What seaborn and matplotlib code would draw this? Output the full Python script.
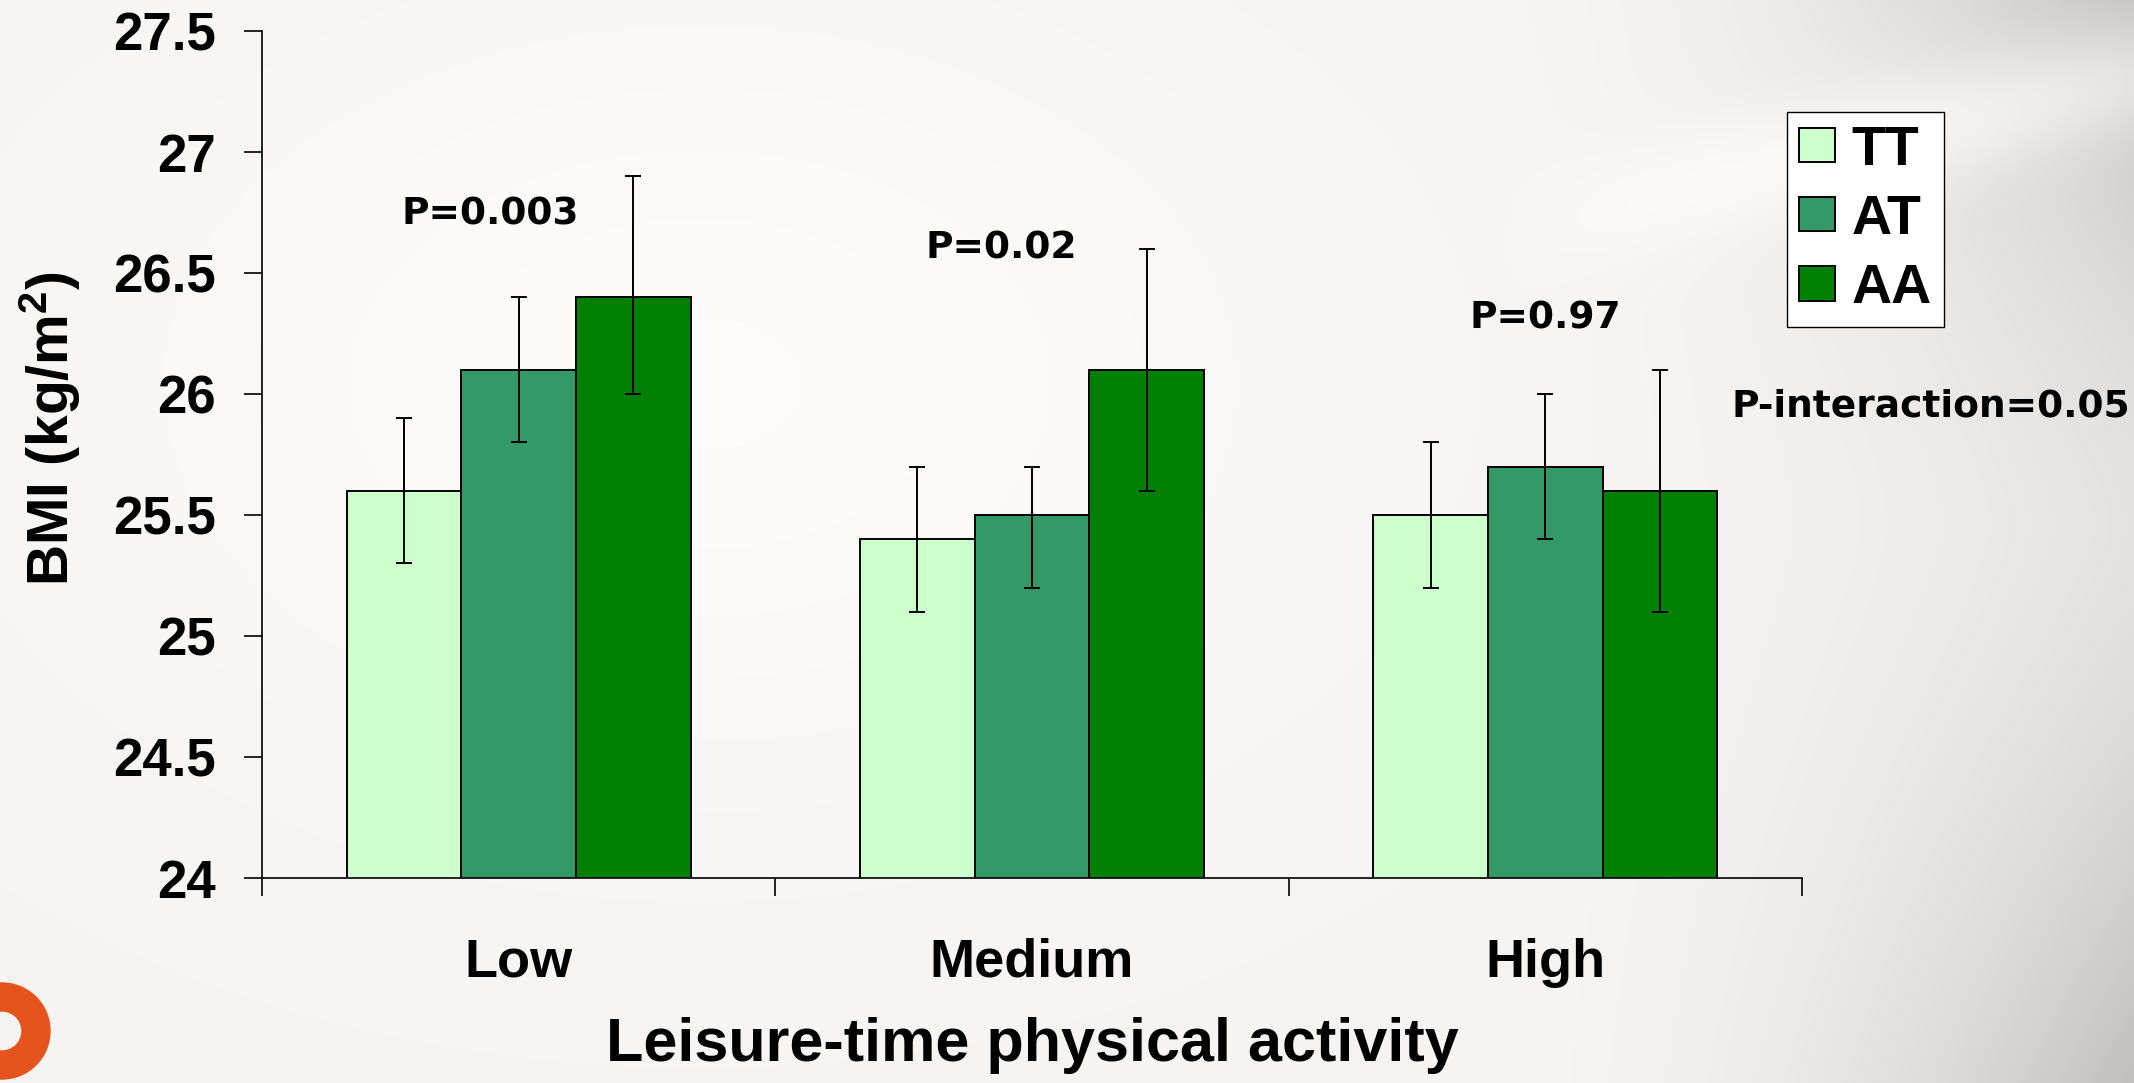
import numpy as np
import pandas as pd
import matplotlib
matplotlib.use("Agg")
import matplotlib.pyplot as plt
import seaborn as sns
from matplotlib.patches import Wedge

# --------------------------------------------------------------------
# 数据
# --------------------------------------------------------------------
activity = ["Low", "Medium", "High"]
genotypes = ["TT", "AT", "AA"]

bmi_tt = [25.6, 25.4, 25.5]
bmi_at = [26.1, 25.5, 25.7]
bmi_aa = [26.4, 26.1, 25.6]

# error bar ends (lower / upper)
low_tt = [25.3, 25.1, 25.2]
high_tt = [25.9, 25.7, 25.8]
low_at = [25.8, 25.2, 25.4]
high_at = [26.4, 25.7, 26.0]
low_aa = [26.0, 25.6, 25.1]
high_aa = [26.9, 26.6, 26.1]

p_labels = ["P=0.003", "P=0.02", "P=0.97"]
p_x = [-0.055, 0.94, 2.0]
p_y = [26.74, 26.60, 26.31]
p_interaction = "P-interaction=0.05"

yticks = [24, 24.5, 25, 25.5, 26, 26.5, 27, 27.5]
ytick_labels = ["24", "24.5", "25", "25.5", "26", "26.5", "27", "27.5"]

colors = ["#ccffcc", "#339966", "#008000"]

# --------------------------------------------------------------------
# 整理成长表
# --------------------------------------------------------------------
df = pd.DataFrame({
    "activity": activity * 3,
    "genotype": sum([[g] * 3 for g in genotypes], []),
    "bmi": bmi_tt + bmi_at + bmi_aa,
})
lows = [low_tt, low_at, low_aa]
highs = [high_tt, high_at, high_aa]

sns.set_theme(style="white")
plt.rcParams["font.family"] = ["Liberation Sans", "DejaVu Sans"]
plt.rcParams["font.weight"] = "bold"
plt.rcParams["text.color"] = "black"
plt.rcParams["axes.labelcolor"] = "black"
plt.rcParams["xtick.color"] = "black"
plt.rcParams["ytick.color"] = "black"
plt.rcParams["mathtext.fontset"] = "custom"
plt.rcParams["mathtext.rm"] = "Liberation Sans:bold"
plt.rcParams["mathtext.it"] = "Liberation Sans:bold"
plt.rcParams["mathtext.bf"] = "Liberation Sans:bold"

W, H = 2134, 1083
fig = plt.figure(figsize=(W / 100, H / 100), dpi=100)
fig.patch.set_facecolor("#f4f2ef")

# 背景渐变 (slide background), 坐标为像素
bg = fig.add_axes([0, 0, 1, 1], zorder=-5)
gx = np.linspace(0, W, 534)
gy = np.linspace(0, H, 271)
X, Y = np.meshgrid(gx, gy)
rx = np.clip((X - 1500) / 634, 0, 1)
ry = np.abs(Y - 560) / 540
shade = 0.965 - 0.20 * rx ** 2 * (0.35 + 0.65 * ry ** 1.5)
band = np.exp(-((Y - 900 - 0.25 * (X - 1700)) / 60) ** 2) * rx * 0.10
glow = 0.03 * np.exp(-(((X - 700) / 600) ** 2 + ((Y - 700) / 400) ** 2))
img = np.clip(shade + band + glow, 0, 1)
rgb = np.dstack([img, img * 0.994, img * 0.988])
bg.imshow(rgb, aspect="auto", extent=[0, W, 0, H], origin="lower")
bg.set_xlim(0, W)
bg.set_ylim(0, H)
bg.set_axis_off()
bg.add_patch(Wedge((2, 52), 48, 0, 360, width=28, color="#e5541c"))

ax = fig.add_axes([262 / W, 1 - 878 / H, 1540 / W, 847 / H])
ax.patch.set_alpha(0)

sns.barplot(data=df, x="activity", y="bmi", hue="genotype",
            order=activity, hue_order=genotypes, palette=colors,
            width=0.67, edgecolor="black", linewidth=1.4, errorbar=None,
            saturation=1, ax=ax)

# 误差线
bar_conts = list(ax.containers)
for i, cont in enumerate(bar_conts):
    xs = [b.get_x() + b.get_width() / 2 for b in cont]
    ys = np.array([b.get_height() for b in cont])
    yerr = [ys - np.array(lows[i]), np.array(highs[i]) - ys]
    ax.errorbar(xs, ys, yerr=yerr, fmt="none", ecolor="black",
                elinewidth=1.4, capsize=6, capthick=1.4, zorder=5)

ax.set_ylim(24, 27.5)
ax.set_xlim(-0.5, 2.5)
ax.set_yticks(yticks)
ax.set_yticklabels(ytick_labels, fontsize=38, fontweight="bold")

# x 轴: 分隔刻度 + 类别标签
ax.set_xticks([-0.5, 0.5, 1.5, 2.5])
ax.set_xticklabels([])
ax.set_xticks([0, 1, 2], minor=True)
ax.set_xticklabels(activity, minor=True, fontsize=39, fontweight="bold")
ax.tick_params(axis="x", which="major", direction="out", length=13,
               width=1.2, color="black", bottom=True)
ax.tick_params(axis="x", which="minor", length=0, pad=43)
ax.tick_params(axis="y", direction="out", length=13, width=1.2,
               color="black", left=True, pad=20)

for s in ["top", "right"]:
    ax.spines[s].set_visible(False)
for s in ["left", "bottom"]:
    ax.spines[s].set_color("black")
    ax.spines[s].set_linewidth(1.2)

ax.set_xlabel("Leisure-time physical activity", fontsize=44,
              fontweight="bold", labelpad=21)
ax.set_ylabel("BMI (kg/m$^2$)", fontsize=41, fontweight="bold")
ax.yaxis.set_label_coords(-0.116, 0.53)

# P 值
for xi, yi, t in zip(p_x, p_y, p_labels):
    ax.text(xi, yi, t, ha="center", va="center", fontsize=27,
            fontweight="bold", family="DejaVu Sans")
ax.text(2.363, 25.95, p_interaction, ha="left", va="center",
        fontsize=27, fontweight="bold", family="DejaVu Sans", clip_on=False)

leg = ax.legend(loc="upper left", bbox_to_anchor=(0.990, 0.904),
                frameon=True, fancybox=False, fontsize=40, handlelength=0.65,
                handleheight=0.58, handletextpad=0.3, labelspacing=0.31,
                borderpad=0.22, borderaxespad=0)
leg.get_frame().set_edgecolor("black")
leg.get_frame().set_linewidth(1.0)
leg.get_frame().set_facecolor("white")
leg.get_frame().set_alpha(1)
for t in leg.get_texts():
    t.set_fontweight("bold")
for h in leg.legend_handles:
    h.set_edgecolor("black")
    h.set_linewidth(1.4)

fig.savefig("out.png", dpi=100, facecolor=fig.get_facecolor())
